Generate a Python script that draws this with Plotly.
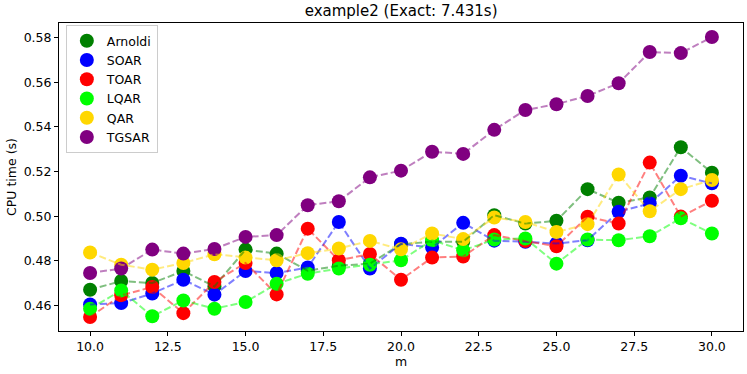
import plotly.graph_objects as go

# problem size
m = [10, 11, 12, 13, 14, 15, 16, 17, 18, 19, 20,
     21, 22, 23, 24, 25, 26, 27, 28, 29, 30]

# CPU time (s) per method
arnoldi = [0.4670, 0.4709, 0.4700, 0.4754, 0.4685, 0.4850, 0.4832, 0.4755, 0.4778, 0.4787, 0.4874,
           0.4885, 0.4885, 0.5004, 0.4967, 0.4979, 0.5121, 0.5060, 0.5084, 0.5309, 0.5195]
soar = [0.4604, 0.4610, 0.4653, 0.4715, 0.4648, 0.4754, 0.4745, 0.4770, 0.4974, 0.4765, 0.4876,
        0.4859, 0.4970, 0.4890, 0.4885, 0.4877, 0.4892, 0.5020, 0.5057, 0.5181, 0.5147]
toar = [0.4548, 0.4645, 0.4682, 0.4565, 0.4705, 0.4790, 0.4649, 0.4944, 0.4802, 0.4830, 0.4715,
        0.4814, 0.4819, 0.4915, 0.4888, 0.4865, 0.4997, 0.4967, 0.5240, 0.4998, 0.5069]
lqar = [0.4585, 0.4667, 0.4551, 0.4622, 0.4585, 0.4615, 0.4697, 0.4742, 0.4765, 0.4782, 0.4802,
        0.4892, 0.4847, 0.4895, 0.4900, 0.4787, 0.4895, 0.4892, 0.4910, 0.4990, 0.4922]
qar = [0.4837, 0.4782, 0.4760, 0.4790, 0.4829, 0.4814, 0.4802, 0.4834, 0.4855, 0.4889, 0.4851,
       0.4922, 0.4897, 0.4994, 0.4974, 0.4929, 0.4964, 0.5187, 0.5022, 0.5121, 0.5162]
tgsar = [0.4745, 0.4765, 0.4850, 0.4832, 0.4853, 0.4907, 0.4915, 0.5049, 0.5067, 0.5174, 0.5204,
         0.5289, 0.5279, 0.5387, 0.5476, 0.5502, 0.5539, 0.5596, 0.5736, 0.5731, 0.5803]

names = ["Arnoldi", "SOAR", "TOAR", "LQAR", "QAR", "TGSAR"]
series = [arnoldi, soar, toar, lqar, qar, tgsar]
colors = [(0, 128, 0), (0, 0, 255), (255, 0, 0), (0, 255, 0), (255, 215, 0), (128, 0, 128)]

font = "DejaVu Sans"
fig = go.Figure()

# markers first (they sit under the dashed lines, like matplotlib's scatter)
for name, ys, c in zip(names, series, colors):
    fig.add_trace(go.Scatter(x=m, y=ys, mode="markers", name=name,
                             marker=dict(size=14, color="rgb(%d,%d,%d)" % c,
                                         line=dict(width=0))))

# dashed half-transparent lines on top
for name, ys, c in zip(names, series, colors):
    fig.add_trace(go.Scatter(x=m, y=ys, mode="lines", showlegend=False,
                             hoverinfo="skip",
                             line=dict(color="rgba(%d,%d,%d,0.5)" % c, width=2,
                                       dash="7px,3px")))

axis_style = dict(showline=True, linecolor="black", linewidth=1, mirror=True,
                  ticks="outside", ticklen=4, tickwidth=1, tickcolor="black",
                  showgrid=False, zeroline=False, automargin=False,
                  tickfont=dict(family=font, size=12.5, color="black"))

fig.update_xaxes(range=[9, 31], tickvals=[10, 12.5, 15, 17.5, 20, 22.5, 25, 27.5, 30],
                 ticktext=["10.0", "12.5", "15.0", "17.5", "20.0", "22.5", "25.0", "27.5", "30.0"],
                 title=dict(text="m", font=dict(family=font, size=12.5, color="black"), standoff=4),
                 **axis_style)
fig.update_yaxes(range=[0.4485, 0.5866], tickvals=[0.46, 0.48, 0.50, 0.52, 0.54, 0.56, 0.58],
                 ticktext=["0.46", "0.48", "0.50", "0.52", "0.54", "0.56", "0.58"],
                 title=dict(text="CPU time (s)", font=dict(family=font, size=12.5, color="black"),
                            standoff=4),
                 **axis_style)

fig.update_layout(
    width=747, height=374,
    margin=dict(l=59, r=4, t=23, b=43),
    paper_bgcolor="white", plot_bgcolor="white",
    font=dict(family=font, size=12.5, color="black"),
    title=dict(text="example2 (Exact: 7.431s)", x=0.537, xanchor="center",
               y=0.97, yanchor="middle", font=dict(family=font, size=15, color="black")),
    legend=dict(x=0.01, y=0.993, xanchor="left", yanchor="top",
                bgcolor="rgba(255,255,255,0.8)", bordercolor="#cccccc", borderwidth=1,
                font=dict(family=font, size=12.5, color="black")),
)

# drop the browser's default 8px body margin so the figure sits at the page corner
fig.write_html("out.html", config={"displayModeBar": False},
               post_script="document.body.style.margin='0';")
